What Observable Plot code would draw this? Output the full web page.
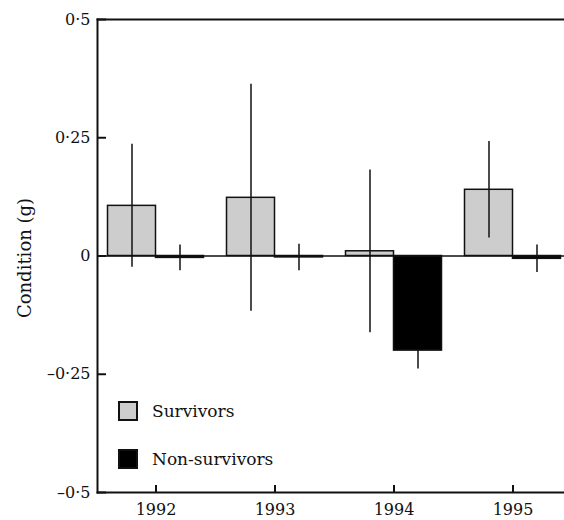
<!DOCTYPE html>
<html>
<head>
<meta charset="utf-8">
<script src="https://cdn.jsdelivr.net/npm/d3@7"></script>
<script src="https://cdn.jsdelivr.net/npm/@observablehq/plot@0.6"></script>
<style>
  html, body { margin: 0; padding: 0; background: #fff; }
  #wrap { position: relative; width: 564px; height: 520px; overflow: hidden; }
  .legend { position: absolute; left: 118px; font-size: 17px; color: #111; display: flex; align-items: center; font-family: "DejaVu Serif", "Liberation Serif", serif; }
  .sw { width: 16px; height: 16px; border: 2px solid #111; margin-right: 14px; }
</style>
</head>
<body>
<div id="wrap"></div>
<script>
const years = ["1992", "1993", "1994", "1995"];
const survivorsMean = [0.106, 0.123, 0.010, 0.140];
const survivorsErr = [0.130, 0.240, 0.172, 0.102];
const nonSurvivorsMean = [-0.004, -0.003, -0.200, -0.006];
const nonSurvivorsErr = [0.027, 0.028, 0.039, 0.029];
const yTicks = [-0.5, -0.25, 0, 0.25, 0.5];
const seriesNames = ["Survivors", "Non-survivors"];
const seriesColors = ["#cdcdcd", "#000000"];

const surv = years.map((y, i) => ({year: y, mean: survivorsMean[i], lo: survivorsMean[i] - survivorsErr[i], hi: survivorsMean[i] + survivorsErr[i]}));
const non = years.map((y, i) => ({year: y, mean: nonSurvivorsMean[i], lo: nonSurvivorsMean[i] - nonSurvivorsErr[i], hi: nonSurvivorsMean[i] + nonSurvivorsErr[i]}));

const fmt = d => d === 0 ? "0" : (d < 0 ? "\u2013" : "") + String(Math.abs(d)).replace(".", "\u00b7");
const serif = '"DejaVu Serif", "Liberation Serif", serif';

const chart = Plot.plot({
  width: 564,
  height: 520,
  marginTop: 19,
  marginBottom: 28,
  marginLeft: 97,
  marginRight: 0,
  style: {fontFamily: serif, fontSize: "16px", color: "#111", background: "#fff"},
  x: {domain: years, range: [95.5, 571.5], padding: 0},
  y: {domain: [-0.5, 0.5]},
  marks: [
    Plot.ruleX(non, {x: "year", y1: "lo", y2: "hi", stroke: "#111", strokeWidth: 1.5, dx: 24}),
    Plot.barY(surv, {x: "year", y: "mean", fill: seriesColors[0], stroke: "#111", strokeWidth: 1.5, insetLeft: 11.5, insetRight: 59.5}),
    Plot.barY(non, {x: "year", y: "mean", fill: seriesColors[1], stroke: "#111", strokeWidth: 1.5, insetLeft: 59.5, insetRight: 11.5}),
    Plot.ruleY([0], {stroke: "#111", strokeWidth: 1.5}),
    Plot.ruleX(surv, {x: "year", y1: "lo", y2: "hi", stroke: "#111", strokeWidth: 1.5, dx: -24}),
    Plot.frame({anchor: "left", stroke: "#111", strokeWidth: 2}),
    Plot.frame({anchor: "top", stroke: "#111", strokeWidth: 2}),
    Plot.frame({anchor: "bottom", stroke: "#111", strokeWidth: 2}),
    Plot.tickY(yTicks, {y: d => d, stroke: "#111", strokeWidth: 2, insetRight: 564 - 97 - 9}),
    Plot.tickX(years, {x: d => d, stroke: "#111", strokeWidth: 2, insetTop: 473 - 7}),
    Plot.axisY({ticks: yTicks, tickSize: 0, tickPadding: 7, tickFormat: fmt, label: null, fontFamily: serif, fontSize: 16}),
    Plot.axisX({tickSize: 0, tickPadding: 11, label: null, fontFamily: serif, fontSize: 16}),
    Plot.text(["Condition (g)"], {frameAnchor: "left", textAnchor: "middle", dx: -72, dy: 2, rotate: -90, fontSize: 18, fill: "#111", fontFamily: serif})
  ]
});

const wrap = document.getElementById("wrap");
wrap.appendChild(chart);
[[401, 0], [449, 1]].forEach(([top, i]) => {
  const d = document.createElement("div");
  d.className = "legend";
  d.style.top = top + "px";
  const s = document.createElement("div");
  s.className = "sw";
  s.style.background = seriesColors[i];
  const t = document.createElement("span");
  t.textContent = seriesNames[i];
  d.appendChild(s);
  d.appendChild(t);
  wrap.appendChild(d);
});
</script>
</body>
</html>
